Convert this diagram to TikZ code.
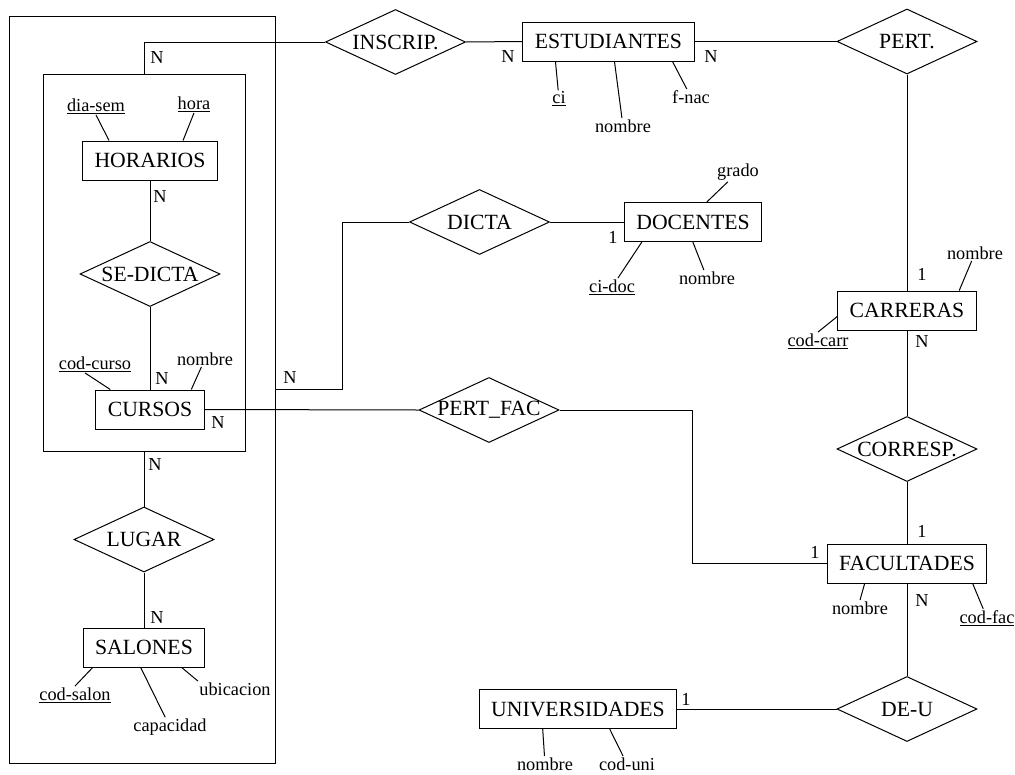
\documentclass[tikz,border=0pt]{standalone}
\usepackage{fontspec}
\setmainfont{Liberation Serif}
\usetikzlibrary{shapes.geometric}

\begin{document}
\begin{tikzpicture}[x=1pt, y=-1pt, line width=1pt,
entity/.style={rectangle, draw, minimum height=39pt, inner xsep=12pt, inner ysep=0pt, font=\fontsize{21.7}{24}\selectfont},
relation/.style={diamond, draw, minimum width=140pt, minimum height=65pt, inner sep=0pt, font=\fontsize{21.7}{24}\selectfont, execute at begin node=\hbox to 0pt\bgroup\hss, execute at end node=\hss\egroup},
attr/.style={inner sep=1pt, font=\fontsize{18.3}{20}\selectfont},
card/.style={inner sep=0pt, font=\fontsize{18.3}{20}\selectfont},
group/.style={rectangle, draw, inner sep=0pt},
]
\useasboundingbox (0,0) rectangle (1015,774);

%Nodes
\node[group, minimum width=266pt, minimum height=747pt] (agg)   at (142,389.5) {};
\node[group, minimum width=202pt, minimum height=377pt] (inner) at (144,262.5) {};

\node[entity]   (hor)     at (150,160.5) {HORARIOS};
\node[entity]   (cur)     at (150,409.5) {CURSOS};
\node[entity]   (sal)     at (144,647.5) {SALONES};
\node[entity]   (est)     at (608.5,41.5) {ESTUDIANTES};
\node[entity]   (doc)     at (693,222) {DOCENTES};
\node[entity]   (car)     at (907,310.5) {CARRERAS};
\node[entity]   (fac)     at (907,563.5) {FACULTADES};
\node[entity]   (uni)     at (578,709) {UNIVERSIDADES};

\node[relation] (sedicta) at (150,274) {SE-DICTA};
\node[relation] (lugar)   at (144,539.5) {LUGAR};
\node[relation] (inscrip) at (395.5,42) {INSCRIP.};
\node[relation] (pert)    at (907,41.5) {PERT.};
\node[relation] (dicta)   at (479.5,222) {DICTA};
\node[relation] (pertfac) at (489,410) {PERT\_FAC};
\node[relation] (corresp) at (907,449) {CORRESP.};
\node[relation] (deu)     at (907,709) {DE-U};

\node[attr] (hordia)   at (96,106)  {\underline{dia-sem}};
\node[attr] (horhora)  at (194,104) {\underline{hora}};
\node[attr] (curcod)   at (95,364)  {\underline{cod-curso}};
\node[attr] (curnom)   at (205,359) {nombre};
\node[attr] (salcod)   at (75,695)  {\underline{cod-salon}};
\node[attr] (salcap)   at (170,727) {capacidad};
\node[attr] (salubic)  at (235,689) {ubicacion};
\node[attr] (estci)    at (559,99)  {\underline{ci}};
\node[attr] (estnom)   at (623,126) {nombre};
\node[attr] (estfnac)  at (691,97)  {f-nac};
\node[attr] (docgrado) at (738,172) {grado};
\node[attr] (docci)    at (612,287) {\underline{ci-doc}};
\node[attr] (docnom)   at (707,278) {nombre};
\node[attr] (carnom)   at (975,253) {nombre};
\node[attr] (carcod)   at (818,341) {\underline{cod-carr}};
\node[attr] (facnom)   at (860,608) {nombre};
\node[attr] (faccod)   at (987,618) {\underline{cod-fac}};
\node[attr] (uninom)   at (545,764) {nombre};
\node[attr] (unicod)   at (627,764) {cod-uni};

\node[card] (cins1)  at (157,58)  {N};
\node[card] (cins2)  at (508,57)  {N};
\node[card] (cpert1) at (711,57)  {N};
\node[card] (cpert2) at (922,274) {1};
\node[card] (ccor1)  at (922,342) {N};
\node[card] (ccor2)  at (922,531) {1};
\node[card] (cpf1)   at (218,423) {N};
\node[card] (cpf2)   at (815,552) {1};
\node[card] (cdeu1)  at (922,601) {N};
\node[card] (cdeu2)  at (686,699) {1};
\node[card] (cdic1)  at (290,378) {N};
\node[card] (cdic2)  at (613,237) {1};
\node[card] (csed1)  at (160,197) {N};
\node[card] (csed2)  at (162,379) {N};
\node[card] (clug1)  at (155,465) {N};
\node[card] (clug2)  at (157,617) {N};

%Lines
\draw (inner.north) |- (inscrip.west);
\draw (inscrip.east) -- (est.west);
\draw (est.east) -- (pert.west);
\draw (pert.south) -- (car.north);
\draw (car.south) -- (corresp.north);
\draw (corresp.south) -- (fac.north);
\draw (fac.south) -- (deu.north);
\draw (deu.west) -- (uni.east);
\draw (agg.east) -- ++(67,0) |- (dicta.west);
\draw (dicta.east) -- (doc.west);
\draw (cur.east) -- (pertfac.west);
\draw (pertfac.east) -- ++(133,0) |- (fac.west);
\draw (hor.south) -- (sedicta.north);
\draw (sedicta.south) -- (cur.north);
\draw (inner.south) -- (lugar.north);
\draw (lugar.south) -- (sal.north);

%Attributes
\draw ([xshift=33pt]est.south west) -- (estci);
\draw ([xshift=92pt]est.south west) -- (estnom);
\draw ([xshift=150pt]est.south west) -- (estfnac);
\draw ([xshift=83pt]doc.north west) -- (docgrado);
\draw ([xshift=18pt]doc.south west) -- (docci);
\draw ([xshift=69pt]doc.south west) -- (docnom);
\draw ([xshift=122pt]car.north west) -- (carnom);
\draw ([yshift=-6pt]car.west) -- (carcod.north);
\draw ([xshift=27pt]hor.north west) -- (hordia.south);
\draw ([xshift=101pt]hor.north west) -- (horhora.south);
\draw ([xshift=15pt]cur.north west) -- ([xshift=-10pt]curcod.south);
\draw ([xshift=96pt]cur.north west) -- (curnom);
\draw ([xshift=10pt]sal.south west) -- (salcod.north);
\draw ([xshift=58pt]sal.south west) -- (salcap);
\draw ([xshift=99pt]sal.south west) -- (salubic.north west);
\draw ([xshift=38pt]fac.south west) -- (facnom.north);
\draw ([xshift=146pt]fac.south west) -- (faccod);
\draw ([xshift=64pt]uni.south west) -- (uninom);
\draw ([xshift=131pt]uni.south west) -- (unicod);
\end{tikzpicture}
\end{document}
